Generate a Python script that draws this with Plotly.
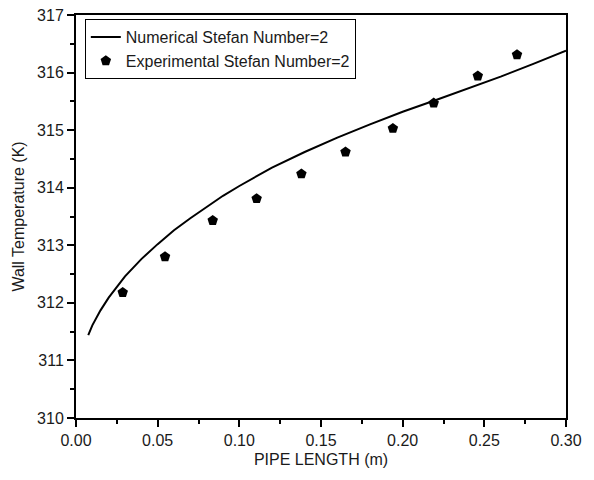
import plotly.graph_objects as go

# Numerical curve
num_x = [0.0075, 0.01, 0.015, 0.02, 0.03, 0.04, 0.05, 0.06, 0.07, 0.08, 0.09, 0.10,
         0.12, 0.14, 0.16, 0.18, 0.20, 0.22, 0.24, 0.26, 0.28, 0.30]
num_y = [311.44, 311.61, 311.87, 312.09, 312.46, 312.76, 313.02, 313.26, 313.47, 313.67, 313.86, 314.03,
         314.35, 314.62, 314.87, 315.10, 315.32, 315.52, 315.72, 315.93, 316.15, 316.38]

# Experimental points
exp_x = [0.0286, 0.0545, 0.0837, 0.1106, 0.138, 0.165, 0.194, 0.219, 0.246, 0.270]
exp_y = [312.18, 312.80, 313.43, 313.81, 314.24, 314.62, 315.03, 315.47, 315.94, 316.31]

x_ticks = [0.00, 0.05, 0.10, 0.15, 0.20, 0.25, 0.30]
y_ticks = [310, 311, 312, 313, 314, 315, 316, 317]

font_family = "Liberation Sans, Arial, sans-serif"
txt = "#1a1a1a"

fig = go.Figure()
fig.add_trace(go.Scatter(x=num_x, y=num_y, mode="lines", line=dict(color="black", width=2),
                         name="Numerical Stefan Number=2"))
fig.add_trace(go.Scatter(x=exp_x, y=exp_y, mode="markers",
                         marker=dict(symbol="pentagon", size=11, color="black"),
                         name="Experimental Stefan Number=2"))

axis_common = dict(showgrid=False, zeroline=False, showline=True, linecolor="black", linewidth=2,
                   mirror=True, ticks="outside", ticklen=7, tickwidth=1.5, tickcolor="black",
                   tickfont=dict(size=16, color=txt, family=font_family))

fig.update_xaxes(range=[0, 0.30], tickvals=x_ticks, ticktext=[f"{v:.2f}" for v in x_ticks],
                 minor=dict(ticks="outside", ticklen=4, tickwidth=1.5, tickcolor="black", dtick=0.025, tick0=0),
                 title=dict(text="PIPE LENGTH (m)", font=dict(size=16, color=txt, family=font_family), standoff=6),
                 **axis_common)
fig.update_yaxes(range=[310, 317], tickvals=y_ticks,
                 minor=dict(ticks="outside", ticklen=4, tickwidth=1.5, tickcolor="black", dtick=0.5, tick0=310),
                 title=dict(text="Wall Temperature (K)", font=dict(size=16, color=txt, family=font_family), standoff=8),
                 **axis_common)

fig.update_layout(width=594, height=480, margin=dict(l=76, r=28, t=15, b=62, autoexpand=False),
                  plot_bgcolor="white", paper_bgcolor="white",
                  font=dict(family=font_family, color=txt),
                  legend=dict(x=0.018, y=0.99, xanchor="left", yanchor="top", bordercolor="black", borderwidth=1,
                              bgcolor="white", font=dict(size=16, color=txt, family=font_family),
                              tracegroupgap=0, itemwidth=30))

fig.write_html("out.html")
